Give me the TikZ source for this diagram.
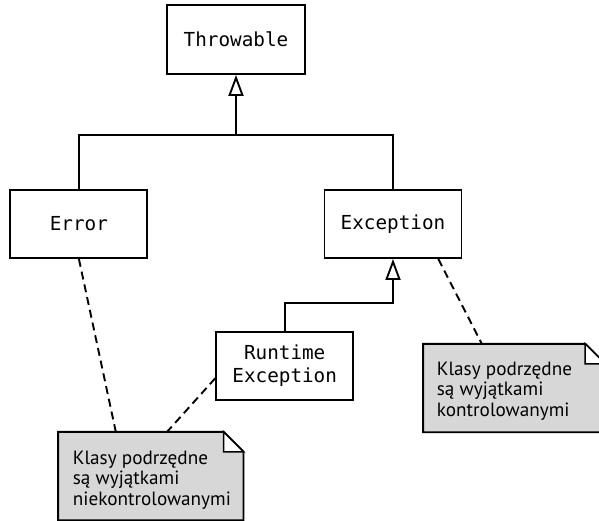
\documentclass[tikz,border=0pt]{standalone}
\usepackage{fontspec}
\setmainfont{PT Sans}
\newfontfamily\clsfont{DejaVu Sans Mono}
\usetikzlibrary{arrows.meta,calc,backgrounds}
\definecolor{notegray}{RGB}{215,215,215}
\tikzset{
  cls/.style={draw, line width=1.9pt, rectangle, minimum width=137pt, minimum height=68pt,
    inner sep=0pt, align=center, font=\clsfont\fontsize{19.3}{23}\selectfont},
  conn/.style={line width=1.9pt},
  inh/.style={line width=1.9pt, -{Triangle[open, length=21pt, width=15pt]}},
  dsh/.style={line width=1.9pt, dash pattern=on 8pt off 5pt},
  notearea/.style={rectangle, inner sep=0pt},
  noteshape/.style={draw, line width=1.9pt, fill=notegray},
  notefold/.style={draw, line width=1.5pt, fill=white, line join=miter},
  notetext/.style={inner sep=0pt, align=left, font=\fontsize{19.2}{20.3}\selectfont}
}
\begin{document}
\begin{tikzpicture}[x=1pt,y=1pt]
\useasboundingbox (0,0) rectangle (599,-521);
% class boxes
\node[cls, minimum width=137.3pt, minimum height=69pt] (thr) at (236,-39.5) {Throwable};
\node[cls] (err) at (78.9,-224) {Error};
\node[cls] (exc) at (393,-224) {Exception};
\node[cls] (rte) at (284.7,-366) {Runtime\\Exception};
% bus coordinates
\coordinate (hb) at (0,-135);
\coordinate (hb2) at (0,-303.3);
% inheritance Throwable
\draw[conn] (err.north) -- (err.north |- hb) -- (exc.north |- hb) -- (exc.north);
\draw[inh] (thr.south |- hb) -- (thr.south);
% inheritance Exception
\draw[inh] (rte.north) -- (rte.north |- hb2) -- (exc.south |- hb2) -- (exc.south);
% notes
\node[notearea, minimum width=185pt, minimum height=88pt] (n1) at (150.8,-476) {};
\node[notearea, minimum width=181.7pt, minimum height=88pt] (n2) at (514.15,-388) {};
\node[notetext, anchor=base west] (n1t) at (72.7,-505) {Klasy podrzędne\\są wyjątkami\\niekontrolowanymi};
\node[notetext, anchor=base west] (n2t) at (436.7,-416) {Klasy podrzędne\\są wyjątkami\\kontrolowanymi};
\begin{scope}[on background layer]
  \foreach \n in {n1,n2}{
    \draw[noteshape] (\n.north west) -- ($(\n.north east)+(-20,0)$) -- ($(\n.north east)+(0,-20)$)
      -- (\n.south east) -- (\n.south west) -- cycle;
    \draw[notefold] ($(\n.north east)+(-20,0)$) -- ++(0,-20) -- ++(20,0) -- cycle;
  }
\end{scope}
% dashed note links
\draw[dsh] (err.south) -- ($(n1.north west)+(57.7,0)$);
\draw[dsh] (rte.190) -- ($(n1.north west)+(109,0)$);
\draw[dsh] ($(exc.south)+(45.3,0)$) -- ($(n2.north west)+(58.7,0)$);
\end{tikzpicture}
\end{document}
